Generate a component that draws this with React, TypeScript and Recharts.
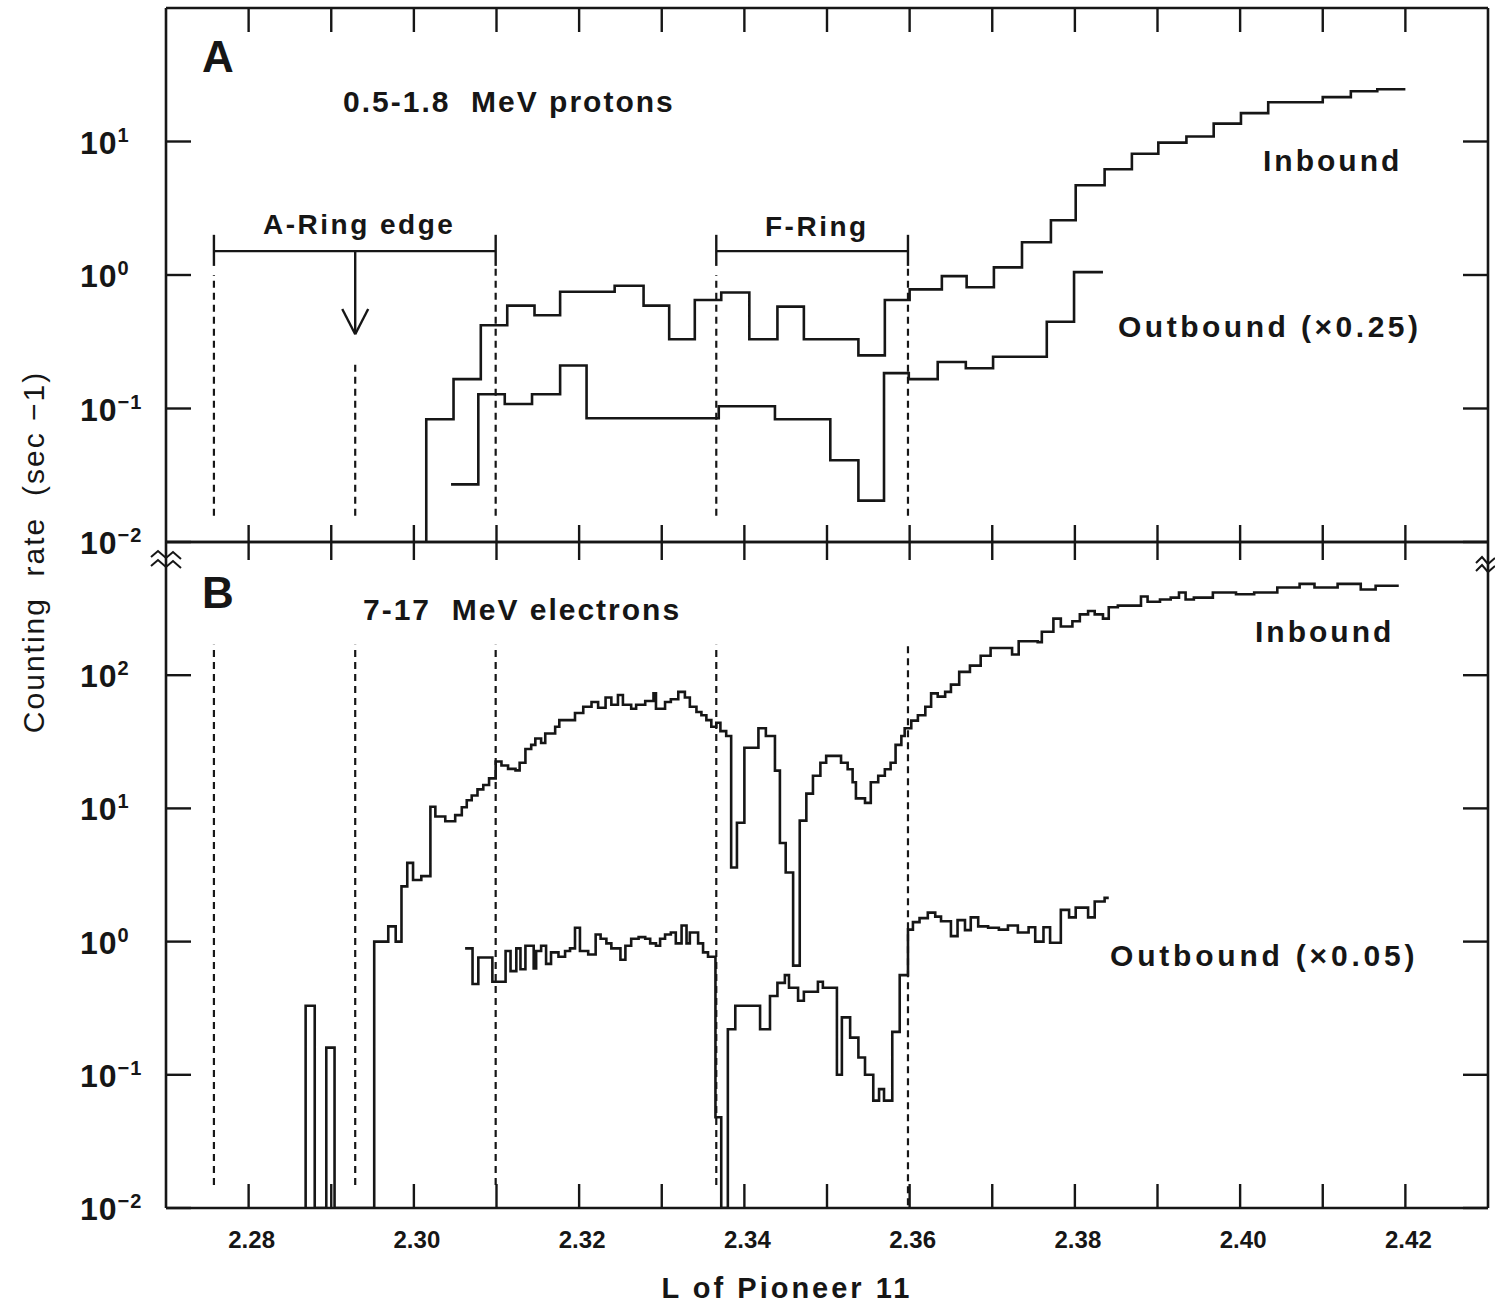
import React from 'react';
import { LineChart, Line, XAxis, YAxis, ReferenceLine } from 'recharts';

const INK = '#161616';
const FONT = '"Liberation Sans", "DejaVu Sans", Arial, sans-serif';

// x axis: L of Pioneer 11
const lDomain = [2.27, 2.43];
const lTicks = [2.28, 2.29, 2.3, 2.31, 2.32, 2.33, 2.34, 2.35, 2.36, 2.37, 2.38, 2.39, 2.4, 2.41, 2.42];

// y axes: counting rate (sec^-1), log
const protonRateDomain = [0.01, 100];
const protonRateTicks = [0.01, 0.1, 1, 10];
const electronRateDomain = [0.01, 1000];
const electronRateTicks = [0.01, 0.1, 1, 10, 100];

// ring markers (L)
const aRingOuter = 2.2758;
const aRingEdge = 2.2929;
const aRingInner = 2.3099;
const fRingInner = 2.3366;
const fRingOuter = 2.3598;

// A: 0.5-1.8 MeV protons, inbound (step histogram, left edges + last end)
const protonInL = [
  2.3015, 2.3015, 2.3048, 2.3081, 2.3113, 2.3146, 2.3177, 2.3243, 2.3278, 2.3309,
  2.334, 2.3372, 2.3406, 2.344, 2.3472, 2.3538, 2.357, 2.36, 2.3639, 2.3669,
  2.3702, 2.3736, 2.3771, 2.3801, 2.3836, 2.3869, 2.3901, 2.3935, 2.3968, 2.4001,
  2.4034, 2.41, 2.4134, 2.4166, 2.42,
];
const protonInRate = [
  0.01, 0.083, 0.166, 0.42, 0.59, 0.5, 0.75, 0.83, 0.59, 0.33,
  0.65, 0.74, 0.33, 0.58, 0.33, 0.25, 0.65, 0.78, 0.98, 0.81,
  1.14, 1.76, 2.57, 4.7, 6.2, 8.1, 9.8, 10.9, 13.6, 16.3,
  19.7, 21.5, 23.8, 24.6, 24.6,
];

// A: outbound (x0.25)
const protonOutL = [
  2.3045, 2.3078, 2.311, 2.3143, 2.3177, 2.3209, 2.3369, 2.3437, 2.3504, 2.3538,
  2.3569, 2.3599, 2.3634, 2.3668, 2.3701, 2.3766, 2.3799, 2.3834,
];
const protonOutRate = [
  0.027, 0.128, 0.108, 0.128, 0.21, 0.0845, 0.104, 0.083, 0.041, 0.0204,
  0.184, 0.166, 0.223, 0.2, 0.244, 0.447, 1.05, 1.05,
];

// B: 7-17 MeV electrons, inbound
const electronInL = [
  2.2869, 2.2869, 2.288, 2.2894, 2.2894, 2.2904, 2.2952, 2.2952, 2.2969, 2.2978,
  2.2985, 2.2992, 2.2999, 2.3009, 2.302, 2.3026, 2.3038, 2.305, 2.3058, 2.3064,
  2.307, 2.3077, 2.3084, 2.3091, 2.3099, 2.3106, 2.3114, 2.3123, 2.3128, 2.3135,
  2.3142, 2.3147, 2.3154, 2.3159, 2.3171, 2.3176, 2.3195, 2.3205, 2.3215, 2.3223,
  2.3232, 2.3239, 2.3247, 2.3253, 2.3263, 2.3269, 2.328, 2.329, 2.3293, 2.3304,
  2.3311, 2.332, 2.3328, 2.3334, 2.3342, 2.3348, 2.3354, 2.336, 2.3366, 2.3371,
  2.3378, 2.3384, 2.3391, 2.34, 2.3417, 2.3426, 2.3437, 2.3443, 2.345, 2.3459,
  2.3467, 2.3475, 2.3483, 2.3492, 2.3499, 2.3517, 2.3525, 2.3531, 2.3535, 2.3546,
  2.3553, 2.3562, 2.357, 2.3577, 2.3583, 2.359, 2.3594, 2.3602, 2.361, 2.3619,
  2.3626, 2.3634, 2.3643, 2.365, 2.366, 2.3673, 2.3686, 2.3698, 2.3724, 2.3732,
  2.3755, 2.376, 2.3774, 2.3783, 2.3797, 2.3806, 2.3816, 2.3824, 2.3834, 2.3841,
  2.3852, 2.388, 2.3888, 2.3903, 2.3916, 2.3926, 2.3934, 2.3944, 2.3967, 2.3995,
  2.4017, 2.4045, 2.4072, 2.409, 2.4118, 2.4146, 2.4164, 2.4192,
];
const electronInRate = [
  0.01, 0.33, 0.01, 0.01, 0.16, 0.01, 0.01, 1.0, 1.3, 1.0,
  2.6, 3.9, 2.9, 3.1, 10.3, 8.7, 8.0, 8.9, 10.2, 11.5,
  12.5, 13.9, 15.0, 16.8, 22.5, 21, 19.8, 19.3, 22, 27.9,
  30, 33.5, 31, 36.5, 41, 46, 52, 58, 63, 57,
  68, 60, 71, 60, 56, 60, 64, 73, 56, 63,
  66, 75, 68, 58, 53, 50, 46, 41, 44, 38,
  35, 3.6, 7.8, 28.5, 40, 35, 19.2, 5.5, 3.3, 0.66,
  8.1, 12.9, 17.6, 22, 24.8, 22, 19.7, 15.7, 11.9, 11.0,
  15.7, 17.6, 19.7, 22, 30, 35, 40, 45.6, 50, 58,
  73, 69, 75, 85, 106, 118, 140, 160, 143, 180,
  177, 212, 266, 232, 254, 286, 303, 286, 266, 324,
  333, 390, 356, 370, 382, 418, 370, 382, 418, 405,
  418, 455, 485, 455, 485, 440, 470, 470,
];

// B: outbound (x0.05)
const electronOutL = [
  2.3062, 2.3071, 2.3078, 2.3095, 2.3111, 2.3117, 2.3124, 2.3129, 2.3135, 2.3145,
  2.3148, 2.3154, 2.316, 2.3166, 2.3175, 2.3183, 2.3189, 2.3195, 2.3201, 2.3211,
  2.322, 2.3226, 2.3233, 2.3239, 2.325, 2.3256, 2.3263, 2.3272, 2.328, 2.3286,
  2.3293, 2.3298, 2.3304, 2.3311, 2.3317, 2.3324, 2.333, 2.3334, 2.3344, 2.335,
  2.3356, 2.3365, 2.3372, 2.338, 2.3389, 2.3419, 2.3431, 2.344, 2.3449, 2.3454,
  2.3465, 2.3472, 2.3489, 2.3495, 2.3512, 2.3518, 2.3528, 2.3538, 2.3546, 2.3556,
  2.3563, 2.3569, 2.3579, 2.3588, 2.3598, 2.3604, 2.3612, 2.3622, 2.3631, 2.3638,
  2.365, 2.3658, 2.3667, 2.3674, 2.3683, 2.3695, 2.3708, 2.3719, 2.3731, 2.3744,
  2.3752, 2.3762, 2.377, 2.3783, 2.3793, 2.3801, 2.3816, 2.3824, 2.3836, 2.3841,
];
const electronOutRate = [
  0.89, 0.48, 0.76, 0.5, 0.85, 0.6, 0.89, 0.62, 0.93, 0.63,
  0.85, 0.93, 0.68, 0.83, 0.77, 0.85, 0.89, 1.27, 0.85, 0.8,
  1.13, 1.05, 0.97, 0.89, 0.73, 0.93, 1.05, 1.08, 1.05, 0.97,
  0.93, 1.05, 1.13, 1.17, 0.97, 1.32, 0.97, 1.17, 0.97, 0.83,
  0.77, 0.048, 0.01, 0.22, 0.33, 0.22, 0.39, 0.49, 0.56, 0.45,
  0.36, 0.42, 0.5, 0.45, 0.1, 0.27, 0.19, 0.135, 0.1, 0.064,
  0.078, 0.064, 0.21, 0.56, 1.23, 1.4, 1.5, 1.65, 1.54, 1.42,
  1.1, 1.45, 1.22, 1.52, 1.3, 1.27, 1.23, 1.32, 1.17, 1.28,
  1.0, 1.28, 0.98, 1.73, 1.52, 1.8, 1.52, 2.0, 2.13, 2.13,
];

const toRows = (ls: number[], rates: number[]) => ls.map((L, i) => ({ L, rate: rates[i] }));

const protonIn = toRows(protonInL, protonInRate);
const protonOut = toRows(protonOutL, protonOutRate);
const electronIn = toRows(electronInL, electronInRate);
const electronOut = toRows(electronOutL, electronOutRate);

const W = 1495;
const stroke = { stroke: INK, strokeWidth: 2.4 };
const axisLine = { stroke: INK, strokeWidth: 2.6 };
const dash = '7 5';

// inward tick on an L axis; dir = +1 down (top axis), -1 up (bottom axis)
const lTick = (dir: number, len: number, withLabel: boolean) => (p: any) => {
  const { x, y, payload } = p;
  const labelled = withLabel && Math.round(payload.value * 100) % 2 === 0;
  return (
    <g>
      <line x1={x} y1={y} x2={x} y2={y + dir * len} {...stroke} />
      {labelled && (
        <text
          x={x + 3}
          y={y + 40}
          textAnchor="middle"
          fill={INK}
          fontFamily={FONT}
          fontWeight={700}
          fontSize={24}
        >
          {payload.value.toFixed(2)}
        </text>
      )}
    </g>
  );
};

// inward tick on a rate axis; dir = +1 (left axis), -1 (right axis)
const rateTick = (dir: number, withLabel: boolean) => (p: any) => {
  const { x, y, payload } = p;
  const exp = Math.round(Math.log10(payload.value));
  const expText = exp < 0 ? `\u2212${-exp}` : `${exp}`;
  return (
    <g>
      <line x1={x} y1={y} x2={x + dir * 25} y2={y} {...stroke} />
      {withLabel && (
        <text x={x - 86} y={y + 12} fill={INK} fontFamily={FONT} fontWeight={700} fontSize={32} letterSpacing={1}>
          10
          <tspan dy={-12} fontSize={20}>
            {expText}
          </tspan>
        </text>
      )}
    </g>
  );
};

const seriesProps = {
  type: 'stepAfter' as const,
  dataKey: 'rate',
  stroke: INK,
  strokeWidth: 2.6,
  dot: false,
  activeDot: false,
  isAnimationActive: false,
};

const vSeg = (L: number, y1: number, y2: number) => [
  { x: L, y: y1 },
  { x: L, y: y2 },
];
const hSeg = (L1: number, L2: number, y: number) => [
  { x: L1, y },
  { x: L2, y },
];

const label = (size: number, spacing: number) => ({
  fill: INK,
  fontFamily: FONT,
  fontWeight: 700,
  fontSize: size,
  letterSpacing: spacing,
});

export default function App() {
  return (
    <div style={{ position: 'absolute', left: 0, top: 0, width: W, height: 1304, background: '#fff' }}>
      <style>{'.recharts-surface { overflow: visible; }'}</style>

      {/* Panel A: protons */}
      <div style={{ position: 'absolute', left: 0, top: 0 }}>
        <LineChart width={W} height={543} margin={{ top: 7, right: 0, bottom: 0, left: 0 }}>
          <XAxis
            dataKey="L"
            type="number"
            domain={lDomain}
            ticks={lTicks}
            interval={0}
            height={1}
            tickSize={0}
            tickMargin={0}
            tickLine={false}
            axisLine={axisLine}
            tick={lTick(-1, 17, false)}
            allowDataOverflow
          />
          <XAxis
            xAxisId="top"
            orientation="top"
            dataKey="L"
            type="number"
            domain={lDomain}
            ticks={lTicks}
            interval={0}
            height={1}
            tickSize={0}
            tickMargin={0}
            tickLine={false}
            axisLine={axisLine}
            tick={lTick(1, 24, false)}
            allowDataOverflow
          />
          <YAxis
            scale="log"
            type="number"
            domain={protonRateDomain}
            ticks={protonRateTicks}
            interval={0}
            width={166}
            tickSize={0}
            tickMargin={0}
            tickLine={false}
            axisLine={axisLine}
            tick={rateTick(1, true)}
            allowDataOverflow
          />
          <YAxis
            yAxisId="right"
            orientation="right"
            scale="log"
            type="number"
            domain={protonRateDomain}
            ticks={protonRateTicks}
            interval={0}
            width={7}
            tickSize={0}
            tickMargin={0}
            tickLine={false}
            axisLine={axisLine}
            tick={rateTick(-1, false)}
            allowDataOverflow
          />

          {/* ring boundaries */}
          <ReferenceLine segment={vSeg(aRingOuter, 0.0157, 1.0)} stroke={INK} strokeWidth={2.2} strokeDasharray={dash} />
          <ReferenceLine segment={vSeg(aRingEdge, 0.0157, 0.23)} stroke={INK} strokeWidth={2.2} strokeDasharray={dash} />
          <ReferenceLine segment={vSeg(aRingInner, 0.0157, 1.17)} stroke={INK} strokeWidth={2.2} strokeDasharray={dash} />
          <ReferenceLine segment={vSeg(fRingInner, 0.0157, 1.0)} stroke={INK} strokeWidth={2.2} strokeDasharray={dash} />
          <ReferenceLine segment={vSeg(fRingOuter, 0.0157, 1.17)} stroke={INK} strokeWidth={2.2} strokeDasharray={dash} />

          {/* A-Ring edge and F-Ring brackets */}
          <ReferenceLine segment={hSeg(aRingOuter, aRingInner, 1.51)} {...stroke} />
          <ReferenceLine segment={vSeg(aRingOuter, 1.17, 2.0)} {...stroke} />
          <ReferenceLine segment={vSeg(aRingInner, 1.17, 2.0)} {...stroke} />
          <ReferenceLine segment={hSeg(fRingInner, fRingOuter, 1.51)} {...stroke} />
          <ReferenceLine segment={vSeg(fRingInner, 1.17, 2.0)} {...stroke} />
          <ReferenceLine segment={vSeg(fRingOuter, 1.17, 2.0)} {...stroke} />

          {/* arrow to the A-ring edge */}
          <ReferenceLine segment={vSeg(aRingEdge, 1.51, 0.36)} {...stroke} />
          <ReferenceLine segment={[{ x: aRingEdge - 0.00157, y: 0.556 }, { x: aRingEdge, y: 0.36 }]} {...stroke} />
          <ReferenceLine segment={[{ x: aRingEdge + 0.00157, y: 0.556 }, { x: aRingEdge, y: 0.36 }]} {...stroke} />

          <Line data={protonIn} {...seriesProps} />
          <Line data={protonOut} {...seriesProps} />
        </LineChart>
      </div>

      {/* Panel B: electrons */}
      <div style={{ position: 'absolute', left: 0, top: 541 }}>
        <LineChart width={W} height={763} margin={{ top: 0, right: 0, bottom: 0, left: 0 }}>
          <XAxis
            dataKey="L"
            type="number"
            domain={lDomain}
            ticks={lTicks}
            interval={0}
            height={96}
            tickSize={0}
            tickMargin={0}
            tickLine={false}
            axisLine={axisLine}
            tick={lTick(-1, 24, true)}
            allowDataOverflow
          />
          <XAxis
            xAxisId="top"
            orientation="top"
            dataKey="L"
            type="number"
            domain={lDomain}
            ticks={lTicks}
            interval={0}
            height={1}
            tickSize={0}
            tickMargin={0}
            tickLine={false}
            axisLine={axisLine}
            tick={lTick(1, 18, false)}
            allowDataOverflow
          />
          <YAxis
            scale="log"
            type="number"
            domain={electronRateDomain}
            ticks={electronRateTicks}
            interval={0}
            width={166}
            tickSize={0}
            tickMargin={0}
            tickLine={false}
            axisLine={axisLine}
            tick={rateTick(1, true)}
            allowDataOverflow
          />
          <YAxis
            yAxisId="right"
            orientation="right"
            scale="log"
            type="number"
            domain={electronRateDomain}
            ticks={electronRateTicks}
            interval={0}
            width={7}
            tickSize={0}
            tickMargin={0}
            tickLine={false}
            axisLine={axisLine}
            tick={rateTick(-1, false)}
            allowDataOverflow
          />

          <ReferenceLine segment={vSeg(aRingOuter, 0.0149, 169)} stroke={INK} strokeWidth={2.2} strokeDasharray={dash} />
          <ReferenceLine segment={vSeg(aRingEdge, 0.0149, 169)} stroke={INK} strokeWidth={2.2} strokeDasharray={dash} />
          <ReferenceLine segment={vSeg(aRingInner, 0.0149, 169)} stroke={INK} strokeWidth={2.2} strokeDasharray={dash} />
          <ReferenceLine segment={vSeg(fRingInner, 0.0149, 169)} stroke={INK} strokeWidth={2.2} strokeDasharray={dash} />
          <ReferenceLine segment={vSeg(fRingOuter, 0.0105, 169)} stroke={INK} strokeWidth={2.2} strokeDasharray={dash} />

          <Line data={electronIn} {...seriesProps} />
          <Line data={electronOut} {...seriesProps} />
        </LineChart>
      </div>

      {/* titles and annotations */}
      <svg
        width={W}
        height={1304}
        style={{ position: 'absolute', left: 0, top: 0, pointerEvents: 'none' }}
      >
        <text x={202} y={72} {...label(44, 0)}>A</text>
        <text x={343} y={112} {...label(30, 2)} xmlSpace="preserve">0.5-1.8  MeV protons</text>
        <text x={263} y={234} {...label(28, 2.5)}>A-Ring edge</text>
        <text x={765} y={236} {...label(28, 2.5)}>F-Ring</text>
        <text x={1263} y={171} {...label(30, 3)}>Inbound</text>
        <text x={1118} y={337} {...label(30, 3.5)}>Outbound (×0.25)</text>

        <text x={202} y={608} {...label(44, 0)}>B</text>
        <text x={363} y={620} {...label(30, 2)} xmlSpace="preserve">7-17  MeV electrons</text>
        <text x={1255} y={642} {...label(30, 3)}>Inbound</text>
        <text x={1110} y={966} {...label(30, 3.8)}>Outbound (×0.05)</text>

        <text x={787} y={1298} textAnchor="middle" {...label(29, 3)}>L of Pioneer 11</text>
        <text
          x={0}
          y={0}
          transform="translate(44 552) rotate(-90)"
          textAnchor="middle"
          fill={INK}
          fontFamily={FONT}
          fontSize={30}
          letterSpacing={2}
          xmlSpace="preserve"
        >
          Counting  rate  (sec −1)
        </text>

        {/* axis break marks */}
        <path d="M151,557 L158,551 L166,558 L173,552 L181,559" fill="none" stroke={INK} strokeWidth={2} />
        <path d="M151,566 L158,560 L166,567 L173,561 L181,568" fill="none" stroke={INK} strokeWidth={2} />
        <path d="M1476,563 L1482,557 L1488,564 L1495,558" fill="none" stroke={INK} strokeWidth={2} />
        <path d="M1476,571 L1482,565 L1488,572 L1495,566" fill="none" stroke={INK} strokeWidth={2} />
      </svg>
    </div>
  );
}
